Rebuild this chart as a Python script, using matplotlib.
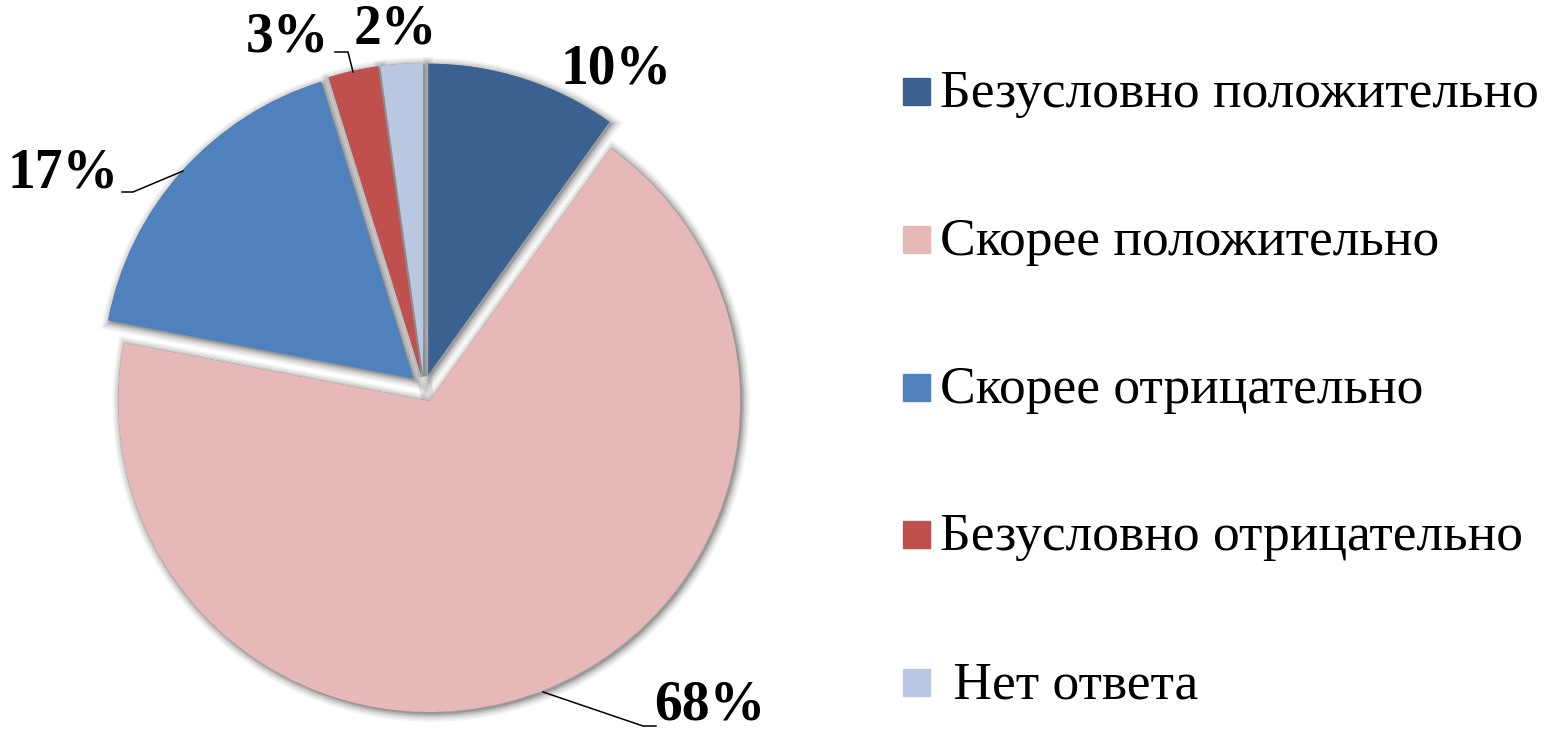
import matplotlib
matplotlib.use('Agg')
import matplotlib.pyplot as plt
import matplotlib.patheffects as pe
from matplotlib.patches import Rectangle

# data (slice sizes, labels are the rounded values)
labels = ['Безусловно положительно', 'Скорее положительно', 'Скорее отрицательно',
          'Безусловно отрицательно', ' Нет ответа']
values = [9.9, 68.1, 17.2, 2.6, 2.2]
colors = ['#3B6190', '#E6B9B8', '#4F81BD', '#C0504D', '#B9C7E1']

W, H = 1549, 730
plt.rcParams['font.family'] = ['Liberation Serif', 'DejaVu Serif']

fig = plt.figure(figsize=(W / 100, H / 100), dpi=100)
ax = fig.add_axes([0, 0, 1, 1])

# pixel-like coordinates, y axis pointing down
center = (424, 388)
radius = 311
explode = [14] * len(values)  # pie explode is in data units

# soft shadow underneath all slices
shadow, _ = ax.pie(values, colors=['#8a8a8a'] * len(values), explode=explode,
                   center=center, radius=radius, startangle=-90, counterclock=True,
                   wedgeprops=dict(linewidth=0))
glow = [pe.Stroke(linewidth=lw, foreground='#7a7a7a', alpha=a, offset=(1.5, -1.5))
        for lw, a in [(11, 0.10), (8, 0.14), (5, 0.2), (2.5, 0.3)]]
for w in shadow:
    w.set_zorder(1)
    w.set_path_effects(glow + [pe.Normal()])

wedges, _ = ax.pie(values, colors=colors, explode=explode,
                   center=center, radius=radius, startangle=-90, counterclock=True,
                   wedgeprops=dict(linewidth=0))
for w in wedges:
    w.set_zorder(2)

ax.set_xlim(0, W)
ax.set_ylim(H, 0)
ax.set_aspect('equal')
ax.axis('off')

# percentage labels and leader lines
label_pos = [(616, 70), (710, 705), (63, 174), (287, 38), (395, 30)]
leaders = {
    1: [(543, 692), (643, 726), (656, 726)],
    2: [(183, 171), (133, 192), (122, 192)],
    3: [(353, 72), (348, 52), (335, 52)],
}
for v, (x, y) in zip(values, label_pos):
    ax.text(x, y, f'{v:.0f}%', fontsize=40, fontweight='bold',
            ha='center', va='center', zorder=5)
for pts in leaders.values():
    xs, ys = zip(*pts)
    ax.plot(xs, ys, color='black', linewidth=1.1, zorder=4)

# legend
for i, lab in enumerate(labels):
    y = 91 + i * 147.8
    ax.add_patch(Rectangle((903, y - 13), 27, 27, color=colors[i], zorder=3))
    ax.text(940, y + 3, lab, fontsize=38.5, ha='left', va='center', zorder=5)

fig.savefig('out.png', dpi=100)
